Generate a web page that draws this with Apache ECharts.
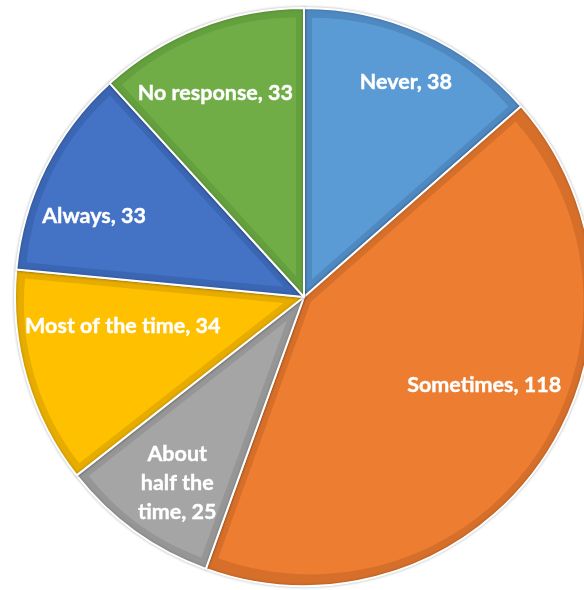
<!DOCTYPE html>
<html>
<head>
<meta charset="utf-8">
<script src="https://cdn.jsdelivr.net/npm/echarts@6/dist/echarts.min.js"></script>
<style>
  html, body { margin: 0; padding: 0; background: #fff; }
  #chart { width: 584px; height: 590px; }
</style>
</head>
<body>
<div id="chart"></div>
<script>
// Survey responses, clockwise from 12 o'clock
const categories = ['Never', 'Sometimes', 'About half the time', 'Most of the time', 'Always', 'No response'];
const counts = [38, 118, 25, 34, 33, 33];

// Slice fills and their darker outline shades
const fillColors = ['#5B9BD5', '#ED7D31', '#A5A5A5', '#FFC000', '#4472C4', '#70AD47'];
const edgeColors = ['#4F89C2', '#D66F2A', '#969696', '#E6AC00', '#3B66B3', '#64A03D'];

// Label nudges (px) from the default inside anchor
const labelShift = [[12, -16], [0, -35], [1, 9], [28, -32], [-15, 17], [-10, -1]];

const CX = 304, CY = 297, R = 289;
const INSET = 8; // outline band width measured from the slice edge

const total = counts.reduce((a, b) => a + b, 0);
const chart = echarts.init(document.getElementById('chart'), null, { renderer: 'canvas' });

const baseData = categories.map((name, i) => ({ name, value: counts[i] }));

const series = [];

// Full slices in the outline shade, separated by thin white gaps
series.push({
  type: 'pie',
  center: [CX, CY],
  radius: [0, R],
  startAngle: 90,
  clockwise: true,
  silent: true,
  label: { show: false },
  labelLine: { show: false },
  data: baseData.map((d, i) => ({
    ...d,
    itemStyle: {
      color: edgeColors[i],
      borderColor: '#ffffff',
      borderWidth: 2,
      shadowBlur: 3,
      shadowColor: 'rgba(0,0,0,0.25)'
    }
  }))
});

// Inner fill of each slice: same angles, apex pushed along the bisector so the
// straight edges sit INSET px inside the outline
let acc = 0;
counts.forEach((v, i) => {
  const theta = v / total * Math.PI * 2;
  const mid = (acc + v / 2) / total * Math.PI * 2;
  acc += v;
  const d = INSET / Math.sin(theta / 2);
  const cx = CX + d * Math.sin(mid);
  const cy = CY - d * Math.cos(mid);
  series.push({
    type: 'pie',
    center: [cx, cy],
    radius: [0, R - INSET - d],
    startAngle: 90,
    clockwise: true,
    silent: true,
    animation: false,
    label: { show: false },
    labelLine: { show: false },
    data: baseData.map((dd, j) => ({
      ...dd,
      itemStyle: j === i
        ? { color: fillColors[i], borderWidth: 0 }
        : { color: 'rgba(0,0,0,0)', borderWidth: 0 }
    }))
  });
});

// Category labels
series.push({
  type: 'pie',
  center: [CX, CY],
  radius: [130, 300],
  startAngle: 90,
  clockwise: true,
  silent: true,
  animation: false,
  labelLine: { show: false },
  label: {
    show: true,
    position: 'inside',
    color: '#ffffff',
    fontFamily: 'Lato',
    fontWeight: 'bold',
    fontSize: 21.5,
    lineHeight: 29,
    textBorderColor: '#ffffff',
    textBorderWidth: 0.4,
    formatter: p => p.name === 'About half the time'
      ? 'About\nhalf the\ntime, ' + p.value
      : p.name + ', ' + p.value
  },
  labelLayout: p => ({ dx: labelShift[p.dataIndex][0], dy: labelShift[p.dataIndex][1] }),
  data: baseData.map(d => ({
    ...d,
    itemStyle: { color: 'rgba(0,0,0,0)', borderWidth: 0 }
  }))
});

chart.setOption({
  backgroundColor: '#ffffff',
  animation: false,
  series
});
</script>
</body>
</html>
